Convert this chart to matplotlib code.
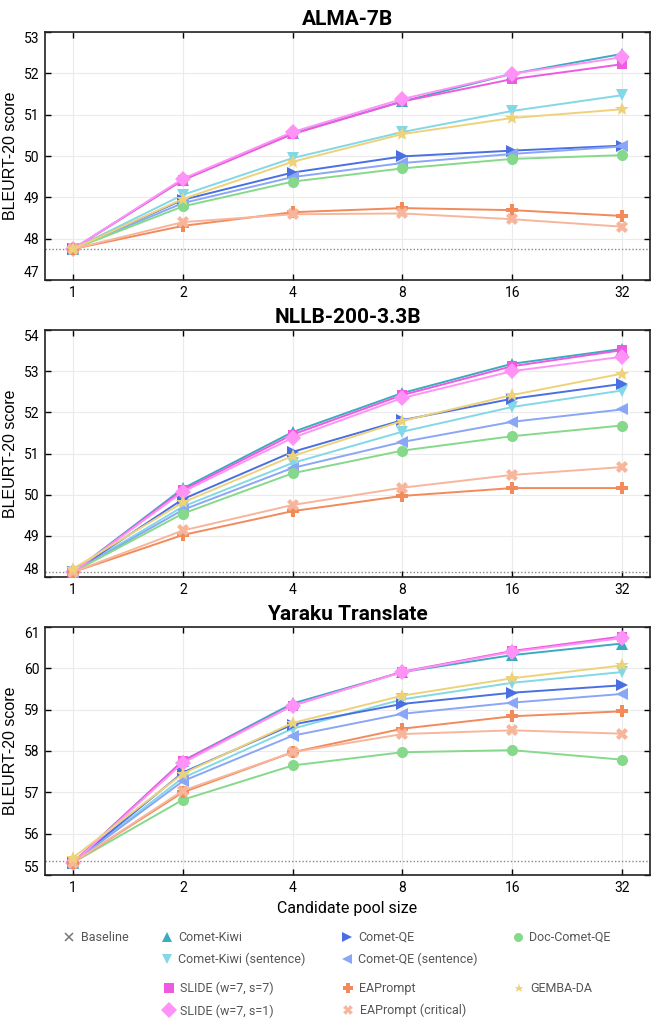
import matplotlib
matplotlib.use("Agg")
import matplotlib.pyplot as plt
from matplotlib.lines import Line2D

plt.rcParams['font.family'] = ['Roboto', 'DejaVu Sans']

# candidate pool sizes
pool = [1, 2, 4, 8, 16, 32]

methods = ["Comet-Kiwi", "Comet-Kiwi (sentence)", "Comet-QE", "Comet-QE (sentence)",
           "Doc-Comet-QE", "SLIDE (w=7, s=7)", "SLIDE (w=7, s=1)", "EAPrompt",
           "EAPrompt (critical)", "GEMBA-DA"]
colors = ["#3aacbf", "#82d8e6", "#4a6fe3", "#8aa6f6", "#86d98a", "#ee5ae0",
          "#ff92f6", "#f28a5a", "#f7b69c", "#eed27a"]
markers = ["^", "v", ">", "<", "o", "s", "D", "P", "X", "*"]

titles = ["ALMA-7B", "NLLB-200-3.3B", "Yaraku Translate"]
baselines = [47.75, 48.12, 55.33]
ylims = [(47, 53), (48, 54), (55, 61)]

# rows follow `methods`
alma = [
    [47.75, 49.42, 50.55, 51.32, 51.99, 52.47],
    [47.75, 49.06, 49.95, 50.58, 51.09, 51.47],
    [47.75, 48.94, 49.60, 49.99, 50.13, 50.25],
    [47.75, 48.86, 49.49, 49.83, 50.05, 50.23],
    [47.75, 48.78, 49.38, 49.70, 49.93, 50.02],
    [47.75, 49.42, 50.53, 51.32, 51.86, 52.22],
    [47.75, 49.45, 50.58, 51.38, 51.99, 52.39],
    [47.75, 48.31, 48.64, 48.74, 48.69, 48.55],
    [47.75, 48.40, 48.59, 48.61, 48.47, 48.29],
    [47.75, 48.96, 49.86, 50.53, 50.92, 51.13],
]
nllb = [
    [48.12, 50.15, 51.52, 52.47, 53.18, 53.54],
    [48.12, 49.71, 50.77, 51.53, 52.13, 52.53],
    [48.12, 49.89, 51.04, 51.81, 52.33, 52.69],
    [48.12, 49.63, 50.65, 51.28, 51.77, 52.07],
    [48.12, 49.54, 50.52, 51.07, 51.42, 51.68],
    [48.12, 50.11, 51.46, 52.42, 53.12, 53.51],
    [48.12, 50.07, 51.38, 52.35, 53.00, 53.35],
    [48.12, 49.02, 49.60, 49.97, 50.16, 50.16],
    [48.12, 49.13, 49.75, 50.17, 50.48, 50.67],
    [48.20, 49.81, 50.94, 51.79, 52.42, 52.94],
]
yaraku = [
    [55.30, 57.76, 59.15, 59.91, 60.32, 60.60],
    [55.30, 57.35, 58.54, 59.25, 59.65, 59.91],
    [55.30, 57.48, 58.64, 59.14, 59.41, 59.59],
    [55.30, 57.27, 58.37, 58.90, 59.17, 59.38],
    [55.30, 56.82, 57.65, 57.97, 58.02, 57.79],
    [55.30, 57.76, 59.10, 59.92, 60.42, 60.77],
    [55.29, 57.71, 59.10, 59.91, 60.40, 60.73],
    [55.30, 57.00, 57.97, 58.54, 58.84, 58.96],
    [55.30, 57.04, 57.97, 58.41, 58.50, 58.42],
    [55.42, 57.45, 58.68, 59.34, 59.76, 60.07],
]
panels = [alma, nllb, yaraku]

# marker sizes in the plots
plot_ms = {"^": 8, "v": 8, ">": 8, "<": 8, "o": 8, "s": 7, "D": 8, "P": 8, "X": 8, "*": 10}

W, H = 652, 1024
fig = plt.figure(figsize=(W / 100, H / 100), dpi=100)

# axes boxes in pixels: (top, bottom)
boxes = [(32, 280), (330, 577), (627, 875)]
left_px, right_px = 45, 650

for i, (top, bot) in enumerate(boxes):
    ax = fig.add_axes([left_px / W, 1 - bot / H, (right_px - left_px) / W, (bot - top) / H])
    ax.axhline(baselines[i], color="#888888", ls=(0, (1, 1.5)), lw=1.0, zorder=1)
    for j, m in enumerate(methods):
        ax.plot(pool, panels[i][j], color=colors[j], marker=markers[j],
                ms=plot_ms[markers[j]], lw=1.4, mew=0, zorder=3)
    ax.set_xscale("log", base=2)
    ax.set_xlim(2 ** -0.255, 2 ** 5.255)
    ax.set_xticks(pool)
    ax.set_xticklabels([str(p) for p in pool])
    ax.minorticks_off()
    ax.set_ylim(*ylims[i])
    ax.set_yticks(range(ylims[i][0], ylims[i][1] + 1))
    ax.grid(True, color="#ebebeb", lw=0.8)
    ax.set_axisbelow(True)
    ax.tick_params(direction="in", top=True, right=True, length=4, width=1,
                   labelsize=10, pad=4)
    # end labels sit inside the axis range
    ylabels = ax.get_yticklabels()
    ylabels[0].set_va("bottom")
    ylabels[-1].set_va("top")
    for s in ax.spines.values():
        s.set_linewidth(1.2)
        s.set_color("#222222")
    ax.set_title(titles[i], fontsize=15, fontweight="bold", pad=5)
    ax.set_ylabel("BLEURT-20 score", fontsize=11.5, labelpad=4,
                  family=["Liberation Sans", "DejaVu Sans"])
    if i == 2:
        ax.set_xlabel("Candidate pool size", fontsize=11.5, labelpad=5)


def column(entries, x_px, y_px):
    handles = []
    labels = []
    for name in entries:
        if name == "Baseline":
            h = Line2D([], [], ls="none", marker="x", color="#777777", ms=6, mew=1.1)
        else:
            k = methods.index(name)
            h = Line2D([], [], ls="none", marker=markers[k], color=colors[k],
                       ms=8 if markers[k] == "D" else 6.5, mew=0)
        handles.append(h)
        labels.append(name)
    leg = fig.legend(handles, labels, loc="upper left",
                     bbox_to_anchor=(x_px / W, 1 - y_px / H), frameon=False,
                     borderpad=0, handlelength=0.9, handletextpad=0.5,
                     labelspacing=0.7, fontsize=9, borderaxespad=0)
    for t in leg.get_texts():
        t.set_color("#555555")


column(["Baseline"], 63, 931)
column(["Comet-Kiwi", "Comet-Kiwi (sentence)"], 161, 931)
column(["Comet-QE", "Comet-QE (sentence)"], 341, 931)
column(["Doc-Comet-QE"], 512, 931)
column(["SLIDE (w=7, s=7)", "SLIDE (w=7, s=1)"], 163, 982)
column(["EAPrompt", "EAPrompt (critical)"], 342, 982)
column(["GEMBA-DA"], 513, 982)

fig.savefig("out.png", dpi=100)
